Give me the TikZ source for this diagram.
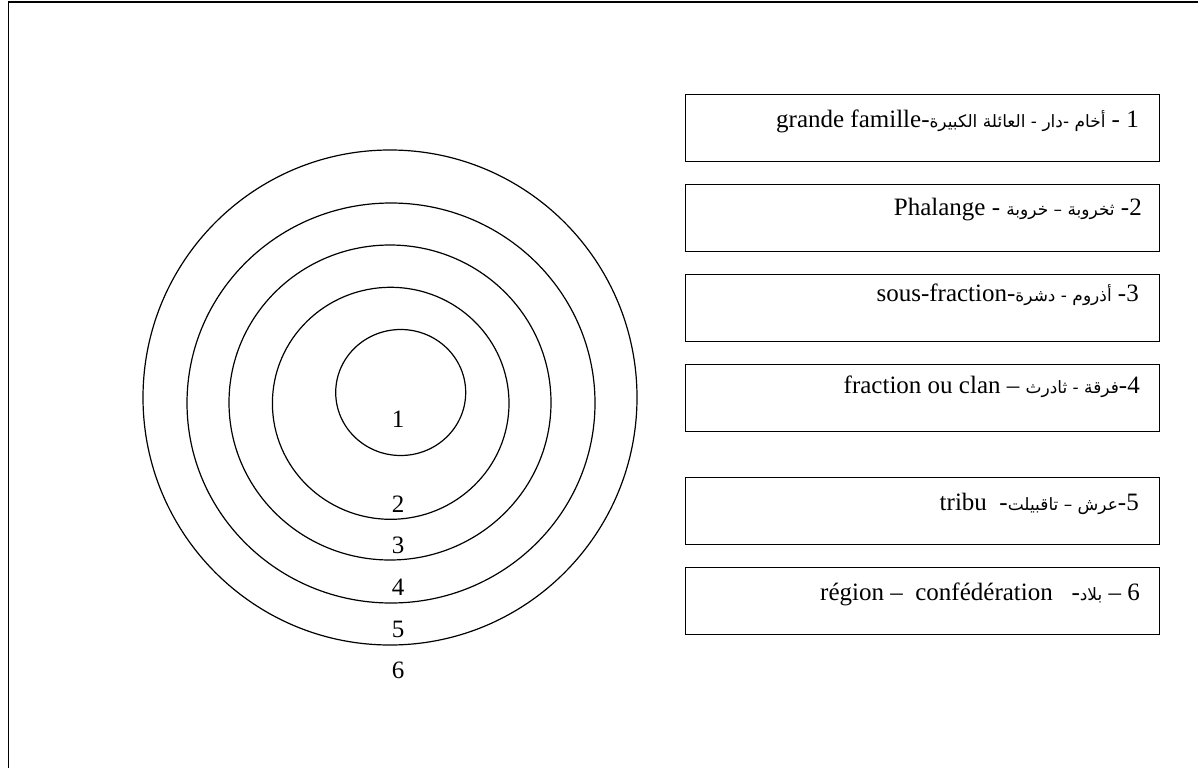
\documentclass[tikz,border=0pt]{standalone}
\usepackage{fontspec}
\setmainfont{Liberation Serif}
\newfontfamily\arabicfont[Script=Arabic]{DejaVu Sans}
\TeXXeTstate=1
\newcommand{\artxt}[1]{{\arabicfont\fontsize{17}{20}\selectfont\beginR #1\endR}}
\begin{document}
\begin{tikzpicture}[x=1pt,y=-1pt,
  frame/.style={line width=1.8pt},
  ring/.style={line width=1.2pt},
  labelbox/.style={draw,line width=1.3pt,minimum width=474pt,minimum height=67pt,inner sep=0pt,anchor=north west},
  boxtext/.style={anchor=base east,inner sep=0pt,font=\fontsize{25}{29}\selectfont},
  ringnum/.style={anchor=base,inner sep=0pt,font=\fontsize{25}{29}\selectfont}]
\useasboundingbox (0,0) rectangle (1198,768);
% frame (only top and left edges visible)
\draw[frame] (8.5,768) -- (8.5,2) -- (1198,2);
% concentric rings
\draw[ring] (390,397.5) ellipse [x radius=247, y radius=247.5];
\draw[ring] (391,403) ellipse [x radius=204, y radius=200];
\draw[ring] (390,402.5) ellipse [x radius=161, y radius=157.5];
\draw[ring] (390.7,403.3) ellipse [x radius=118.3, y radius=116];
\draw[ring] (400.7,392.5) ellipse [x radius=65, y radius=63];
% ring numbers
\node[ringnum] (n1) at (398,427) {1};
\node[ringnum] (n2) at (398,512) {2};
\node[ringnum] (n3) at (398,553) {3};
\node[ringnum] (n4) at (398,595) {4};
\node[ringnum] (n5) at (398,637) {5};
\node[ringnum] (n6) at (398,678) {6};
% boxes
\node[labelbox] (b1) at (685,93.5) {};
\node[labelbox] (b2) at (685,183.5) {};
\node[labelbox] (b3) at (685,273.5) {};
\node[labelbox] (b4) at (685,363.5) {};
\node[labelbox] (b5) at (685,477) {};
\node[labelbox] (b6) at (685,567) {};
% box texts
\node[boxtext] (t1) at (1139,127) {grande famille-\artxt{أخام -دار - العائلة الكبيرة} - 1};
\node[boxtext] (t2) at (1142,215) {Phalange - \artxt{ثخروبة – خروبة} -2};
\node[boxtext] (t3) at (1139,301) {sous-fraction-\artxt{أذروم - دشرة} -3};
\node[boxtext] (t4) at (1140,393) {fraction ou clan – \artxt{فرقة - ثادرث}-4};
\node[boxtext] (t5) at (1139,510) {tribu\ \ -\artxt{عرش – تاقبيلت}-5};
\node[boxtext] (t6) at (1140,600) {région –\ \ confédération\ \ \ -\artxt{بلاد} – 6};
\end{tikzpicture}
\end{document}
